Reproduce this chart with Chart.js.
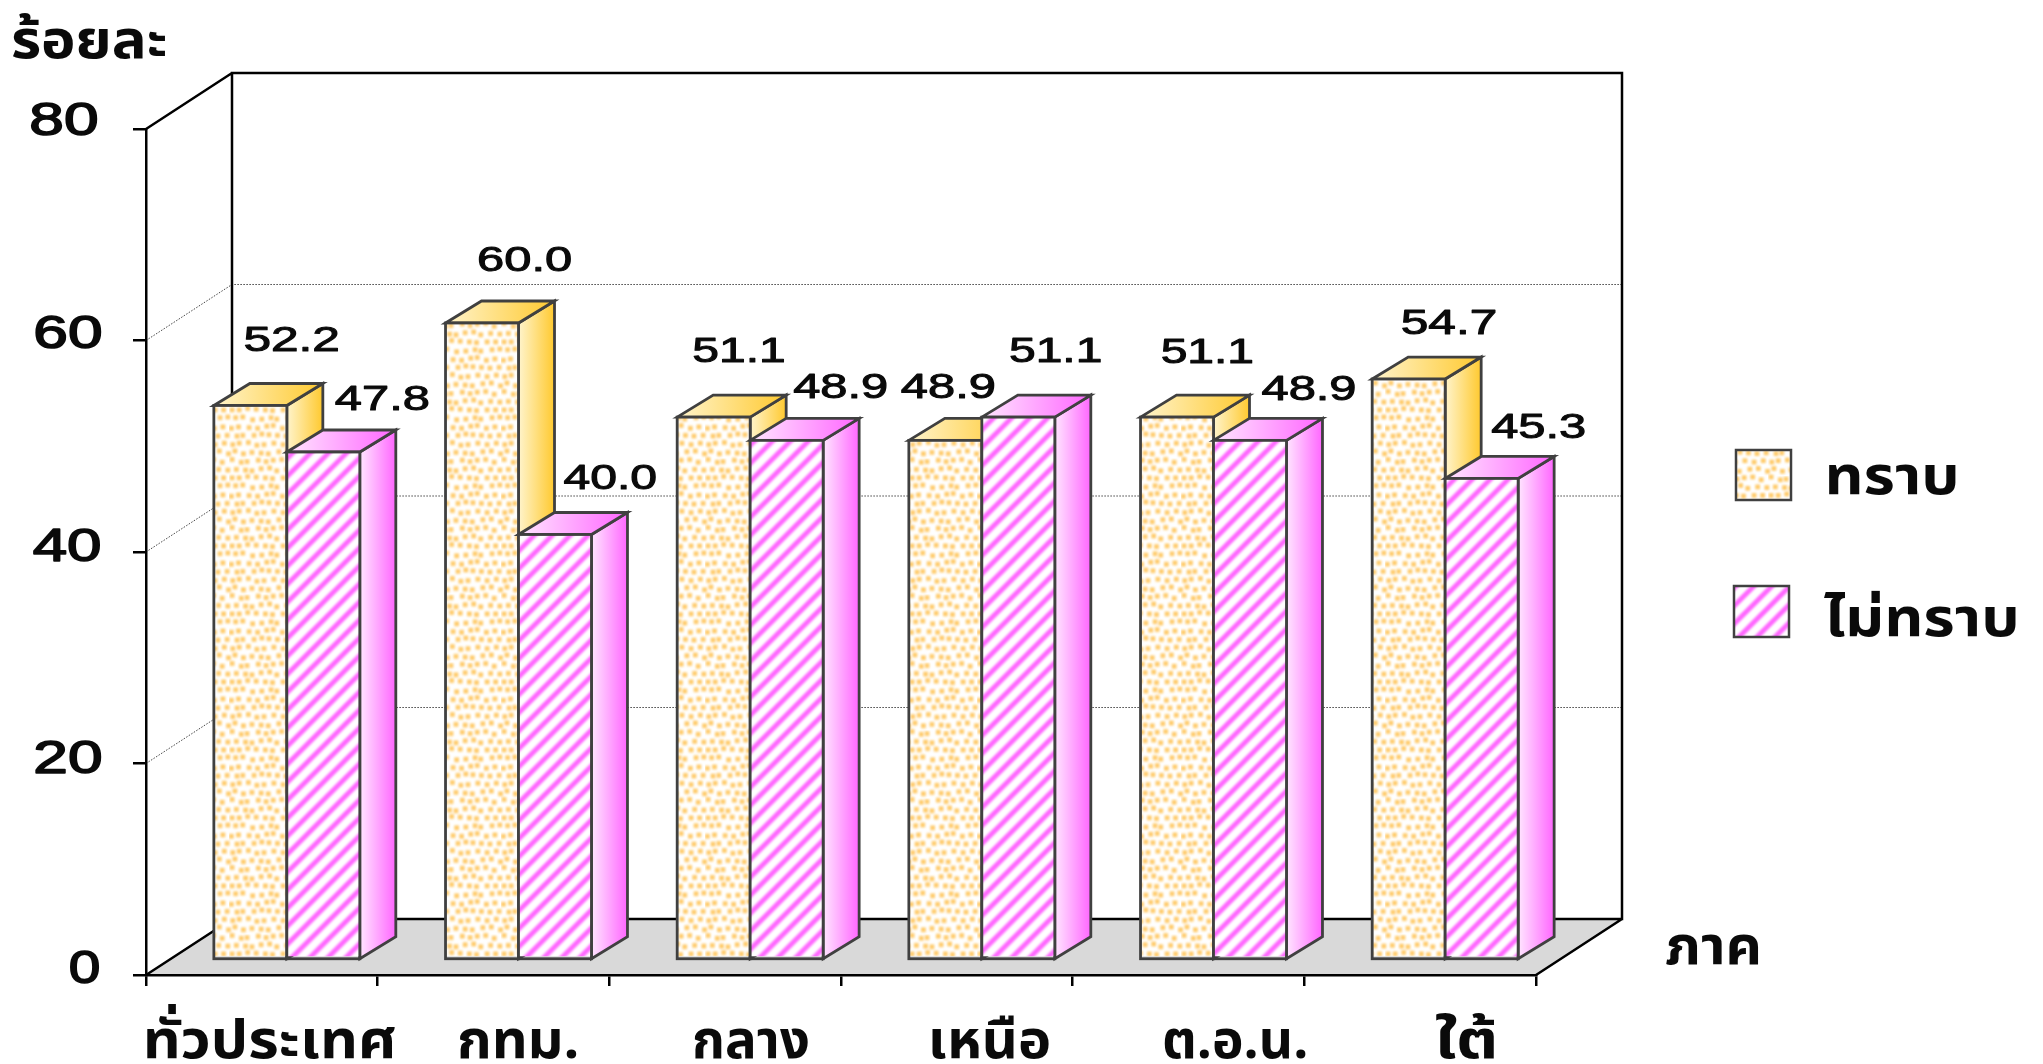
<!DOCTYPE html>
<html><head><meta charset="utf-8">
<style>html,body{margin:0;padding:0;background:#fff}canvas{display:block}</style>
<script src="https://cdn.jsdelivr.net/npm/chart.js@4"></script></head>
<body><canvas id="c" width="2043" height="1064" style="width:2043px;height:1064px"></canvas>
<script>
const categories = ['ทั่วประเทศ','กทม.','กลาง','เหนือ','ต.อ.น.','ใต้'];
const knowValues = [52.2,60.0,51.1,48.9,51.1,54.7];
const unknownValues = [47.8,40.0,48.9,51.1,48.9,45.3];
const seriesNames = ['ทราบ','ไม่ทราบ'];
const yTicks = [0,20,40,60,80];

// layout (not data)
const FONT_TH = '"Noto Sans Thai","Noto Sans","Noto Sans CJK SC","DejaVu Sans",sans-serif';
const FONT_NUM = '"Liberation Sans",Arial,sans-serif';
const DEPTH = {x:86,y:-56};          // floor depth
const BAR_OFF = {x:25,y:-15};        // bar base offset from the front edge
const TOP_LIFT = 2.5;                // front-face top sits slightly above the scale position
const BAR_D = {x:36,y:-22};          // bar depth
const OUT = '#404040';
const labelOff = [[[41,-69],[43,-67],[25,-70],[2,-57],[30,-69],[40,-60]],
                  [[58,-57],[55,-60],[53,-57],[37,-70],[58,-55],[56,-55]]];
const xLabelBox = [[147,395],[459,577],[694,808],[932,1049],[1164,1306],[1436,1495]];
const yLabelBox = {0:[70,99,967],20:[36,101,757],40:[34,100,545],60:[36,101,332],80:[32,97,119]};

function fitText(ctx,t,l,r,base,font,strokeW){
  ctx.save();ctx.font=font;ctx.textAlign='left';ctx.textBaseline='alphabetic';ctx.fillStyle='#0a0a0a';
  const m=ctx.measureText(t);const w=m.actualBoundingBoxRight+m.actualBoundingBoxLeft;
  const s=(r-l)/w;ctx.translate(l,base);ctx.scale(s,1);
  ctx.fillText(t,m.actualBoundingBoxLeft,0);
  if(strokeW){ctx.strokeStyle='#0a0a0a';ctx.lineWidth=strokeW;ctx.lineJoin='round';ctx.strokeText(t,m.actualBoundingBoxLeft,0);}
  ctx.restore();
}
function dotPattern(){
  const T=68,c=document.createElement('canvas');c.width=c.height=T;const x=c.getContext('2d');
  x.fillStyle='#fff';x.fillRect(0,0,T,T);x.fillStyle='#ffcb6c';x.filter='blur(0.8px)';
  const jit=[1,-1,0,2,-2,1,-1,2,0,-2,1,0,2,-1,-2,0,1,-1];
  for(let r=0;r<8;r++)for(let q=0;q<8;q++){
    const a=jit[(r*5+q*7)%18],b=jit[(r*11+q*3+4)%18];
    const px=(q*8.5+(r%2?4.25:0)+a*.7+T)%T,py=(r*8.5+b*.7+T)%T;
    for(const ox of [0,-T])for(const oy of [0,-T]){x.fillRect(px+ox,py+oy,4.8,4.8);}
  }
  return c;
}
function stripePattern(){
  const p=18;const c=document.createElement('canvas');c.width=c.height=p;const x=c.getContext('2d');
  x.fillStyle='#fff';x.fillRect(0,0,p,p);x.strokeStyle='#ff66ff';x.lineWidth=5;x.filter='blur(0.8px)';
  for(let k=-p;k<=2*p;k+=p){x.beginPath();x.moveTo(k-4,p+4);x.lineTo(k+p+4,-4);x.stroke();}
  return c;
}
const cx=document.getElementById('c').getContext('2d');
const dotP=cx.createPattern(dotPattern(),'repeat');
const strP=cx.createPattern(stripePattern(),'repeat');
const grads=[['#fff4cc','#ffc92e'],['#ffe6ff','#ff66ff']];
const fills=[dotP,strP];

function poly(ctx,pts,fill,stroke,lw){
  ctx.beginPath();pts.forEach((p,i)=>i?ctx.lineTo(p[0],p[1]):ctx.moveTo(p[0],p[1]));ctx.closePath();
  if(fill){ctx.fillStyle=fill;ctx.fill();}
  if(stroke){ctx.strokeStyle=stroke;ctx.lineWidth=lw;ctx.lineJoin='miter';ctx.stroke();}
}
const box3d={id:'box3d',
  beforeDraw(chart){
    const {ctx,chartArea:a,scales:{y}}=chart;
    const dx=DEPTH.x,dy=DEPTH.y,b=a.bottom,L=a.left,R=a.right,T=a.top;
    ctx.save();ctx.fillStyle='#fff';ctx.fillRect(0,0,chart.width,chart.height);
    poly(ctx,[[L,b],[L+dx,b+dy],[R+dx,b+dy],[R,b]],'#d9d9d9');
    // depth gridlines on walls
    ctx.strokeStyle='#444';ctx.lineWidth=1;ctx.setLineDash([1.5,1.5]);
    yTicks.filter(v=>v>0&&v<80).forEach(v=>{const p=y.getPixelForValue(v);
      ctx.beginPath();ctx.moveTo(L,p);ctx.lineTo(L+dx,p+dy);ctx.lineTo(R+dx,p+dy);ctx.stroke();});
    ctx.setLineDash([]);
    ctx.strokeStyle='#000';ctx.lineWidth=2.5;
    ctx.beginPath();ctx.rect(L+dx,T+dy,R-L,b-T);ctx.moveTo(L,T);ctx.lineTo(L+dx,T+dy);
    ctx.moveTo(L,b);ctx.lineTo(L+dx,b+dy);ctx.moveTo(R,b);ctx.lineTo(R+dx,b+dy);ctx.stroke();
    ctx.restore();
  },
  // left series first so the right one's top overlaps its side, as in the reference
  beforeDatasetsDraw(chart){
    const {ctx,scales:{y}}=chart;
    [0,1].forEach(idx=>{
      const meta=chart.getDatasetMeta(idx),g=grads[idx];
      ctx.save();
      meta.data.forEach(el=>{
        const w=el.width,l=el.x-w/2+BAR_OFF.x,r=l+w,t=el.y+BAR_OFF.y-TOP_LIFT,bb=el.base+BAR_OFF.y;
        const dx=BAR_D.x,dy=BAR_D.y;
        let gr=ctx.createLinearGradient(r,0,r+dx,0);gr.addColorStop(0,g[0]);gr.addColorStop(1,g[1]);
        poly(ctx,[[r,t],[r+dx,t+dy],[r+dx,bb+dy],[r,bb]],gr,OUT,2.8);
        gr=ctx.createLinearGradient(l,0,r+dx,0);gr.addColorStop(0,g[0]);gr.addColorStop(1,g[1]);
        poly(ctx,[[l,t],[l+dx,t+dy],[r+dx,t+dy],[r,t]],gr,OUT,2.8);
      });
      ctx.save();ctx.translate(BAR_OFF.x,BAR_OFF.y-TOP_LIFT);
      meta.controller.draw();
      ctx.restore();
      meta.data.forEach(el=>{
        const w=el.width,l=el.x-w/2+BAR_OFF.x,t=el.y+BAR_OFF.y-TOP_LIFT,bb=el.base+BAR_OFF.y;
        ctx.strokeStyle=OUT;ctx.lineWidth=2.8;ctx.strokeRect(l,t,w,bb-t);
      });
      ctx.restore();
    });
    // data labels
    [knowValues,unknownValues].forEach((vals,s)=>{
      const meta=chart.getDatasetMeta(s);
      vals.forEach((v,i)=>{
        const el=meta.data[i],t=v.toFixed(1);
        const cxp=el.x+BAR_OFF.x+labelOff[s][i][0],cy=el.y+BAR_OFF.y+labelOff[s][i][1];
        const hw=t.startsWith('51.1')?45:46.5;
        fitText(ctx,t,cxp-hw,cxp+hw,cy+12,'35px '+FONT_NUM,1);
      });
    });
    // y tick labels, from the scale
    y.ticks.forEach(tk=>{const b=yLabelBox[tk.value];
      fitText(ctx,String(tk.value),b[0],b[1],b[2]+16,'47px '+FONT_NUM,1.6);});
    // x labels
    categories.forEach((c,i)=>{const b=xLabelBox[i];fitText(ctx,c,b[0],b[1],1058,'bold 54px '+FONT_TH);});
    // titles
    fitText(ctx,'ร้อยละ',12,165,58,'bold 54px '+FONT_TH);
    fitText(ctx,'ภาค',1666,1759,964,'bold 54px '+FONT_TH);
    // legend
    const leg=[[1736,450,55,50,1829,1956,494],[1734,586,55,51,1824,2016,636]];
    leg.forEach((q,i)=>{
      ctx.fillStyle=fills[i];ctx.fillRect(q[0],q[1],q[2],q[3]);
      ctx.strokeStyle=OUT;ctx.lineWidth=2.5;ctx.strokeRect(q[0],q[1],q[2],q[3]);
      fitText(ctx,seriesNames[i],q[4],q[5],q[6],'bold 54px '+FONT_TH);
    });
    return false;
  }
};
new Chart(cx,{type:'bar',
  data:{labels:categories,datasets:[
    {label:seriesNames[0],data:knowValues,backgroundColor:dotP,borderWidth:0,categoryPercentage:.63,barPercentage:1},
    {label:seriesNames[1],data:unknownValues,backgroundColor:strP,borderWidth:0,categoryPercentage:.63,barPercentage:1}]},
  options:{responsive:false,animation:false,events:[],
    layout:{padding:{left:0,right:507,top:129,bottom:0}},
    plugins:{legend:{display:false},tooltip:{enabled:false}},
    scales:{
      x:{position:'bottom',afterFit(s){s.height=89;},
        grid:{offset:true,drawOnChartArea:false,drawTicks:true,tickLength:11,color:'#000',lineWidth:2.5},
        border:{color:'#000',width:2.5},ticks:{display:false}},
      y:{min:0,max:80,position:'left',afterFit(s){s.width=146;},
        afterBuildTicks(s){s.ticks=yTicks.map(v=>({value:v}));},
        grid:{drawOnChartArea:false,drawTicks:true,tickLength:13,color:'#000',lineWidth:2.5},
        border:{color:'#000',width:2.5},ticks:{display:false}}
    }},
  plugins:[box3d]});
</script></body></html>
